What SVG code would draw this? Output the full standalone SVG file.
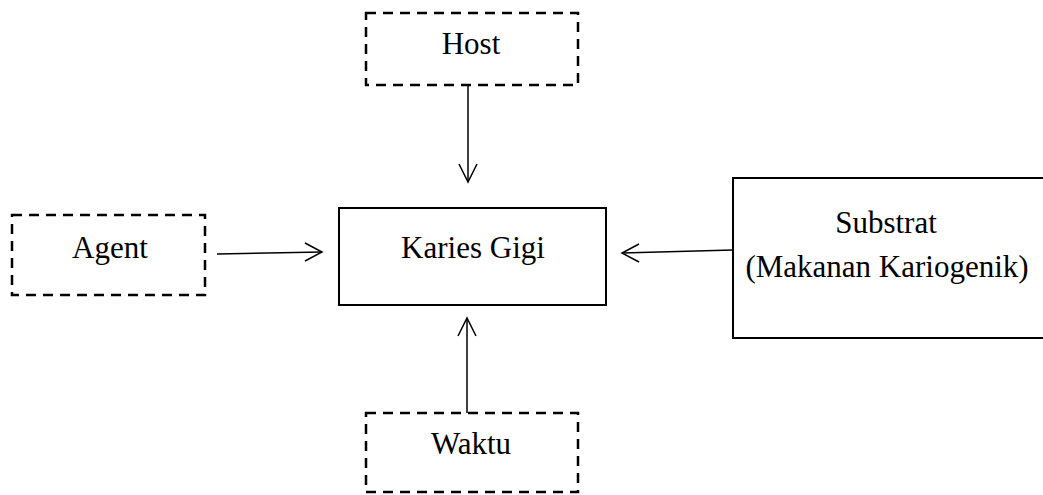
<svg xmlns="http://www.w3.org/2000/svg" width="1043" height="495" viewBox="0 0 1043 495">
<style>
.dash{fill:none;stroke:#000;stroke-width:2.5;stroke-dasharray:10,7}
.solid{fill:none;stroke:#000;stroke-width:2}
.conn{fill:none;stroke:#000;stroke-width:1.5}
.ah{fill:none;stroke:#000;stroke-width:1.5}
text{font-family:"Liberation Serif","Times New Roman",serif;font-size:31px;fill:#000;text-anchor:middle}
</style>
<rect width="1043" height="495" fill="#fff"/>
<g id="host"><rect class="dash" x="366" y="13" width="212" height="72"/><text x="471" y="54">Host</text></g>
<g id="agent"><rect class="dash" x="12" y="215" width="193" height="80"/><text x="110" y="258">Agent</text></g>
<g id="karies"><rect class="solid" x="339" y="208" width="267" height="97"/><text x="473" y="258">Karies Gigi</text></g>
<g id="substrat"><path class="solid" d="M1043,178 H733 V338 H1043"/><text x="886" y="233">Substrat</text><text x="887" y="277">(Makanan Kariogenik)</text></g>
<g id="waktu"><rect class="dash" x="366" y="413" width="212" height="79"/><text x="471" y="454">Waktu</text></g>
<g id="connectors">
<line class="conn" x1="468" y1="85" x2="468" y2="182"/>
<path class="ah" d="M459,164 L468,182 L477,164"/>
<line class="conn" x1="217" y1="254" x2="322" y2="252"/>
<path class="ah" d="M305,243 L322,252 L305,261"/>
<line class="conn" x1="733" y1="250" x2="622" y2="253"/>
<path class="ah" d="M639,244 L622,253 L639,262"/>
<line class="conn" x1="467" y1="413" x2="467" y2="318"/>
<path class="ah" d="M458,336 L467,318 L476,336"/>
</g>
</svg>
